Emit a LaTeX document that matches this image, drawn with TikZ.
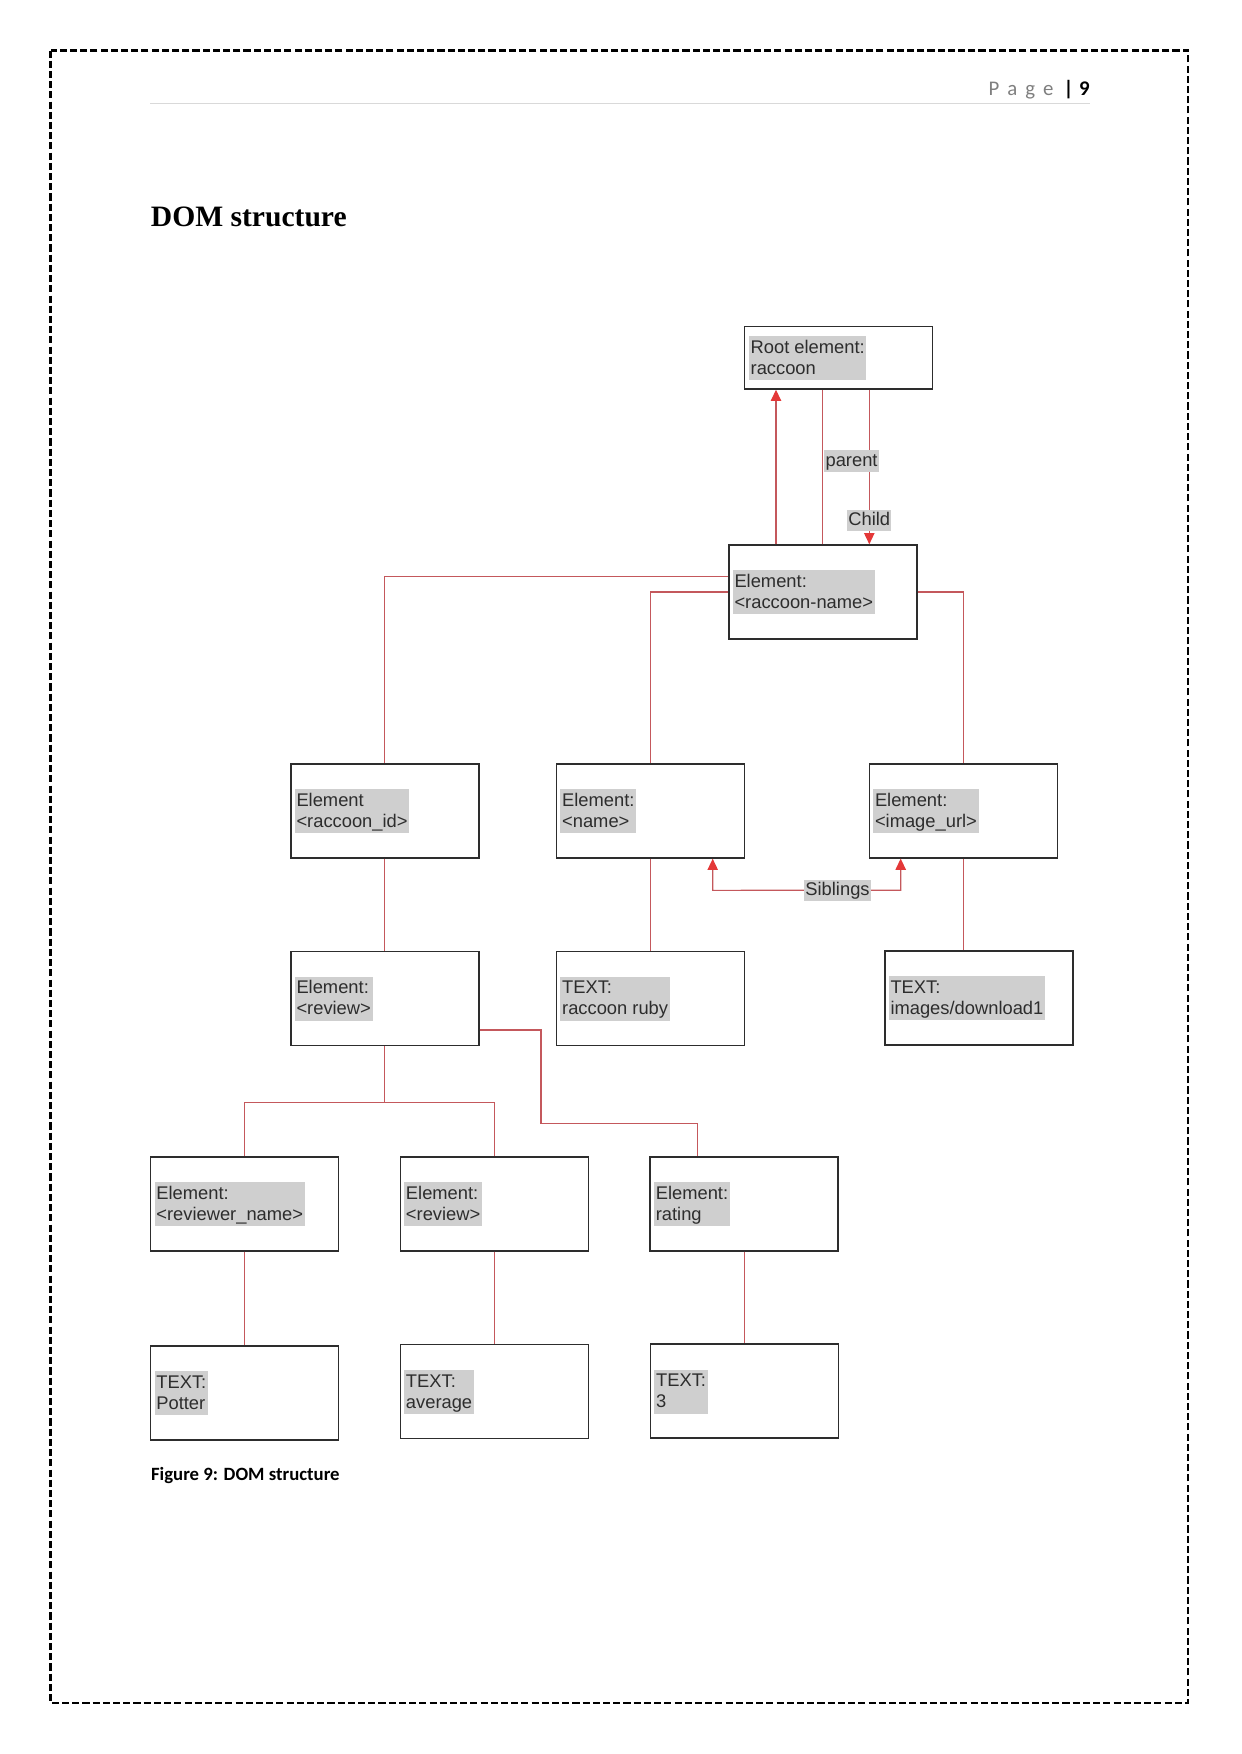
\documentclass[tikz,border=0pt]{standalone}
\usepackage{fontspec}
\setmainfont{Liberation Sans}
\newfontfamily\calibfont{Carlito}
\newfontfamily\headserif{Liberation Serif}
\usetikzlibrary{arrows.meta,calc}
\definecolor{hl}{RGB}{207,207,207}
\definecolor{txt}{RGB}{45,45,45}
\definecolor{edge}{RGB}{196,88,92}
\definecolor{tipred}{RGB}{228,56,56}
\definecolor{pagegray}{RGB}{127,127,127}
\definecolor{rulegray}{RGB}{217,217,217}
\newcommand\lnstrut{\rule[-1.9bp]{0pt}{9.1bp}}
\begin{document}
\begin{tikzpicture}[x=0.48bp,y=-0.48bp,
  box/.style={draw=txt, line width=0.7bp, minimum width=90.24bp, minimum height=45.12bp, inner sep=0pt, fill=white},
  hltext/.style={fill=hl, text=txt, font=\fontsize{8.8bp}{10bp}\selectfont, align=left, inner xsep=0.8bp, inner ysep=1bp, anchor=west},
  lbl/.style={fill=hl, text=txt, font=\fontsize{8.8bp}{10bp}\selectfont, inner xsep=0.6bp, inner ysep=0.6bp},
  conn/.style={draw=edge, line width=0.55bp},
  tipend/.style={-{Triangle[length=5.4bp,width=5bp,color=tipred]}},
  tipboth/.style={{Triangle[length=5.4bp,width=5bp,color=tipred]}-{Triangle[length=5.4bp,width=5bp,color=tipred]}}
]
\useasboundingbox (0,0) rectangle (1241,1754);
% page frame
\draw[line width=1bp, dash pattern=on 3.4bp off 1.5bp] (50.5,50.5) rectangle (1188,1703);
% header
\coordinate (hl1) at (150,103.3);
\coordinate (hl2) at (1090,103.3);
\draw[rulegray, line width=0.5bp] (hl1) -- (hl2);
\node[anchor=base west, inner sep=0pt, text=pagegray, font=\calibfont\fontsize{10bp}{12bp}\selectfont] (pageword) at (988.3,95.7) {P\hspace{3.8bp}a\hspace{3.8bp}g\hspace{3.8bp}e};
\node[anchor=base, inner sep=0pt, font=\calibfont\bfseries\fontsize{10bp}{12bp}\selectfont] (pagebar) at (1068.5,95.7) {|};
\node[anchor=base east, inner sep=0pt, font=\calibfont\bfseries\fontsize{10bp}{12bp}\selectfont] (pagenum) at (1090,95.7) {9};
% heading
\node[anchor=base west, inner sep=0pt, font=\headserif\bfseries\fontsize{14.2bp}{17bp}\selectfont] (heading) at (150.5,226.7) {DOM structure};

% boxes
\node[box, minimum height=29.9bp] (root) at (838.3,357.85) {};
\node[box] (rn) at (822.85,592) {};
\node[box] (rid) at (384.85,810.85) {};
\node[box] (name) at (650.5,811) {};
\node[box] (img) at (963.35,810.85) {};
\node[box] (rev) at (384.85,998.35) {};
\node[box] (ruby) at (650.5,998.35) {};
\node[box] (dl) at (978.85,998) {};
\node[box] (rvn) at (244.7,1203.85) {};
\node[box] (rev2) at (494.3,1203.85) {};
\node[box] (rating) at (744.15,1203.85) {};
\node[box] (pot) at (244.7,1393) {};
\node[box] (avg) at (494.3,1391.65) {};
\node[box] (three) at (744.5,1391.15) {};

% box texts
\node[hltext] (root-t) at ($(root.west)+(5,0.4)$) {\lnstrut Root element:\\\lnstrut raccoon};
\node[hltext] (rn-t) at ($(rn.west)+(4.3,0.4)$) {\lnstrut Element:\\\lnstrut <raccoon-name>};
\node[hltext] (rid-t) at ($(rid.west)+(4.3,0.4)$) {\lnstrut Element\\\lnstrut <raccoon\_id>};
\node[hltext] (name-t) at ($(name.west)+(4.3,0.4)$) {\lnstrut Element:\\\lnstrut <name>};
\node[hltext] (img-t) at ($(img.west)+(4.3,0.4)$) {\lnstrut Element:\\\lnstrut <image\_url>};
\node[hltext] (rev-t) at ($(rev.west)+(4.3,0.4)$) {\lnstrut Element:\\\lnstrut <review>};
\node[hltext] (ruby-t) at ($(ruby.west)+(4.3,0.4)$) {\lnstrut TEXT:\\\lnstrut raccoon ruby};
\node[hltext] (dl-t) at ($(dl.west)+(4.3,0.4)$) {\lnstrut TEXT:\\\lnstrut images/download1};
\node[hltext] (rvn-t) at ($(rvn.west)+(4.3,0.4)$) {\lnstrut Element:\\\lnstrut <reviewer\_name>};
\node[hltext] (rev2-t) at ($(rev2.west)+(4.3,0.4)$) {\lnstrut Element:\\\lnstrut <review>};
\node[hltext] (rating-t) at ($(rating.west)+(4.3,0.4)$) {\lnstrut Element:\\\lnstrut rating};
\node[hltext] (pot-t) at ($(pot.west)+(4.3,0.4)$) {\lnstrut TEXT:\\\lnstrut Potter};
\node[hltext] (avg-t) at ($(avg.west)+(4.3,0.4)$) {\lnstrut TEXT:\\\lnstrut average};
\node[hltext] (three-t) at ($(three.west)+(4.3,0.4)$) {\lnstrut TEXT:\\\lnstrut 3};

% connectors: root <-> raccoon-name
\draw[conn,tipend] ($(rn.north)+(-46.85,0)$) -- ($(root.south)+(-62.3,0)$);
\draw[conn] (rn.north) -- (rn.north |- root.south);
\draw[conn,tipend] ($(root.south)+(31,0)$) -- ($(rn.north)+(46.45,0)$)
  node[lbl, pos=0.46, xshift=-8.5bp] (lparent) {\lnstrut parent}
  node[lbl, pos=0.845] (lchild) {\lnstrut Child};

% raccoon-name to children
\draw[conn] ($(rn.west)+(0,-15.3)$) -| (rid.north);
\draw[conn] (rn.west) -| (name.north);
\draw[conn] (rn.east) -| (img.north);

% second level
\draw[conn] (rid.south) -- (rev.north);
\draw[conn] (name.south) -- (ruby.north);
\draw[conn] (img.south) -- (img.south |- dl.north);

% siblings
\coordinate (sibL) at ($(name.south)+(62.2,31.6)$);
\coordinate (sibR) at ($(img.south)+(-62.65,31.6)$);
\draw[conn,tipboth] ($(name.south)+(62.2,0)$) -- (sibL) -- node[lbl, pos=0.664] (lsib) {\lnstrut Siblings} (sibR) -- ($(img.south)+(-62.65,0)$);

% review children
\coordinate (revfork) at ($(rev.south)+(0,56)$);
\draw[conn] (rev.south) -- (revfork) -| (rvn.north);
\draw[conn] (revfork) -| (rev2.north);
\coordinate (ratbend) at (541,1123.3);
\draw[conn] ($(rev.east)+(0,31.65)$) -| (ratbend) -| ($(rating.north)+(-46.45,0)$);

% text children
\draw[conn] (rvn.south) -- (pot.north);
\draw[conn] (rev2.south) -- (avg.north);
\draw[conn] (rating.south) -- (rating.south |- three.north);

% caption
\node[anchor=base west, inner sep=0pt, font=\calibfont\bfseries\fontsize{9bp}{11bp}\selectfont] (caption) at (150.7,1480.7) {Figure 9: DOM structure};
\end{tikzpicture}
\end{document}
